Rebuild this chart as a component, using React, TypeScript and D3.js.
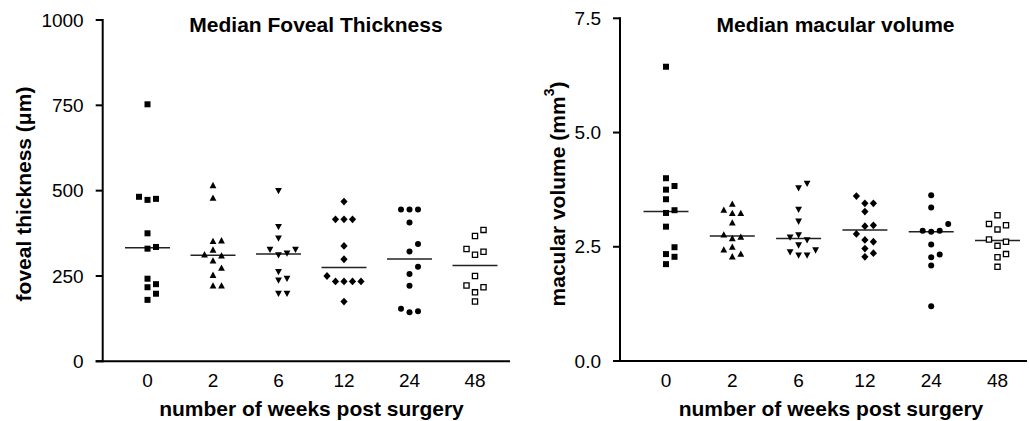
import React, { useRef, useEffect } from 'react';
import * as d3 from 'd3';

const weeks = ['0', '2', '6', '12', '24', '48'];

const thickness0 = [753, 482, 476, 473, 375, 335, 330, 242, 226, 217, 198, 180];
const thickness2 = [515, 478, 353, 351, 326, 312, 309, 294, 273, 252, 221, 221];
const thickness6 = [500, 395, 361, 328, 328, 317, 312, 263, 243, 238, 199, 199];
const thickness12 = [468, 416, 416, 416, 338, 299, 250, 234, 234, 234, 234, 175];
const thickness24 = [445, 445, 445, 407, 344, 322, 277, 256, 221, 154, 147, 144];
const thickness48 = [385, 367, 329, 321, 312, 250, 222, 217, 202, 175];

const volume0 = [6.44, 4.0, 3.83, 3.75, 3.54, 3.3, 3.24, 2.94, 2.49, 2.34, 2.28, 2.12];
const volume2 = [3.43, 3.3, 3.23, 3.23, 3.02, 2.76, 2.71, 2.68, 2.49, 2.43, 2.34, 2.28];
const volume6 = [3.89, 3.79, 3.32, 3.06, 2.76, 2.71, 2.65, 2.54, 2.43, 2.39, 2.32, 2.32];
const volume12 = [3.61, 3.45, 3.45, 3.27, 2.97, 2.95, 2.78, 2.65, 2.61, 2.46, 2.36, 2.28];
const volume24 = [3.63, 3.36, 3.0, 2.85, 2.85, 2.83, 2.55, 2.33, 2.27, 2.09, 1.2];
const volume48 = [3.19, 3.0, 2.97, 2.88, 2.66, 2.61, 2.52, 2.34, 2.27, 2.06];

const thicknessTicks = [0, 250, 500, 750, 1000];
const volumeTicks = [0, 2.5, 5.0, 7.5];

const FONT = "'Liberation Sans', Arial, Helvetica, sans-serif";

// marker per week group: filled square, triangle, inverted triangle, diamond, circle, open square
const markers = [
    { d: 'M-3,-3h6v6h-6z', fill: '#000', stroke: 'none' },
    { d: 'M0,-3.7L3.4,2.6L-3.4,2.6Z', fill: '#000', stroke: 'none' },
    { d: 'M0,3.7L3.4,-2.6L-3.4,-2.6Z', fill: '#000', stroke: 'none' },
    { d: 'M0,-3.9L3.6,0L0,3.9L-3.6,0Z', fill: '#000', stroke: 'none' },
    { d: d3.symbol(d3.symbolCircle, Math.PI * 9)(), fill: '#000', stroke: 'none' },
    { d: 'M-2.6,-2.6h5.2v5.2h-5.2z', fill: '#fff', stroke: '#000' },
];

// spread points sideways so they don't overlap (column scatter)
function swarm(values, y, gap = 8) {
    const slots = [0, 1, -1, 2, -2, 3, -3];
    const placed = [];
    values
        .map(v => ({ v, py: y(v) }))
        .sort((a, b) => a.v - b.v)
        .forEach(p => {
            for (const s of slots) {
                if (!placed.some(q => q.slot === s && Math.abs(q.py - p.py) < gap)) {
                    placed.push({ ...p, slot: s });
                    break;
                }
            }
        });
    return placed;
}

function drawPanel(g, cfg) {
    const x = d3.scalePoint().domain(weeks).range(cfg.xRange);
    const y = d3.scaleLinear().domain(cfg.yDomain).range(cfg.yRange);
    const step = 8.5;

    // title
    g.append('text')
        .attr('x', cfg.titleX)
        .attr('y', 32)
        .attr('text-anchor', 'middle')
        .attr('font-weight', 'bold')
        .attr('font-size', 21)
        .text(cfg.title);

    // y axis
    g.append('line')
        .attr('x1', cfg.axisX).attr('x2', cfg.axisX)
        .attr('y1', y(cfg.yDomain[1]) - 1).attr('y2', y(0) + 1)
        .attr('stroke', '#000').attr('stroke-width', 2);

    cfg.ticks.forEach(t => {
        g.append('line')
            .attr('x1', cfg.axisX - 7).attr('x2', cfg.axisX)
            .attr('y1', y(t)).attr('y2', y(t))
            .attr('stroke', '#000').attr('stroke-width', 2);
        g.append('text')
            .attr('x', cfg.axisX - 19)
            .attr('y', y(t))
            .attr('dy', '0.35em')
            .attr('text-anchor', 'end')
            .attr('font-size', 19)
            .text(cfg.format(t));
    });

    // x axis
    g.append('line')
        .attr('x1', cfg.axisX - 7).attr('x2', cfg.xAxisEnd)
        .attr('y1', y(0)).attr('y2', y(0))
        .attr('stroke', '#000').attr('stroke-width', 2);

    weeks.forEach(w => {
        g.append('text')
            .attr('x', x(w))
            .attr('y', 387)
            .attr('text-anchor', 'middle')
            .attr('font-size', 19)
            .text(w);
    });

    g.append('text')
        .attr('x', cfg.xLabelX)
        .attr('y', 416)
        .attr('text-anchor', 'middle')
        .attr('font-weight', 'bold')
        .attr('font-size', 21)
        .text('number of weeks post surgery');

    // y label
    const yl = g.append('text')
        .attr('transform', `translate(${cfg.yLabelX},194) rotate(-90)`)
        .attr('text-anchor', 'middle')
        .attr('font-weight', 'bold')
        .attr('font-size', 21);
    cfg.yLabel(yl);

    // points and medians
    cfg.series.forEach((values, i) => {
        const cx = x(weeks[i]);
        const m = markers[i];
        const med = d3.median(values);

        g.append('line')
            .attr('x1', cx - 22.5).attr('x2', cx + 22.5)
            .attr('y1', y(med)).attr('y2', y(med))
            .attr('stroke', '#222').attr('stroke-width', 1.5);

        g.selectAll(null)
            .data(swarm(values, y))
            .join('path')
            .attr('transform', d => `translate(${cx + d.slot * step},${d.py})`)
            .attr('d', m.d)
            .attr('fill', m.fill)
            .attr('stroke', m.stroke)
            .attr('stroke-width', 1.3);
    });
}

const App = () => {
    const svgRef = useRef(null);

    useEffect(() => {
        const svg = d3.select(svgRef.current);
        svg.selectAll('*').remove();

        drawPanel(svg.append('g'), {
            title: 'Median Foveal Thickness',
            series: [thickness0, thickness2, thickness6, thickness12, thickness24, thickness48],
            yDomain: [0, 1000],
            yRange: [361.3, 20],
            xRange: [147.5, 475],
            ticks: thicknessTicks,
            format: d3.format('d'),
            axisX: 102.7,
            xAxisEnd: 510,
            titleX: 316,
            xLabelX: 311.5,
            yLabelX: 23,
            yLabel: t => {
                t.attr('dominant-baseline', 'central').text('foveal thickness (μm)');
            },
        });

        drawPanel(svg.append('g'), {
            title: 'Median macular volume',
            series: [volume0, volume2, volume6, volume12, volume24, volume48],
            yDomain: [0, 7.5],
            yRange: [361, 18.3],
            xRange: [666, 997.5],
            ticks: volumeTicks,
            format: d3.format('.1f'),
            axisX: 620,
            xAxisEnd: 1027,
            titleX: 835.5,
            xLabelX: 831,
            yLabelX: 557,
            yLabel: t => {
                t.attr('dominant-baseline', 'central');
                t.append('tspan').text('macular volume (mm');
                t.append('tspan').attr('font-size', 14).attr('dy', -8).text('3');
                t.append('tspan').attr('dy', 8).text(')');
            },
        });
    }, []);

    return (
        <svg
            ref={svgRef}
            width={1029}
            height={421}
            style={{ position: 'absolute', left: 0, top: 0, background: '#fff', fontFamily: FONT }}
        />
    );
};

export default App;
